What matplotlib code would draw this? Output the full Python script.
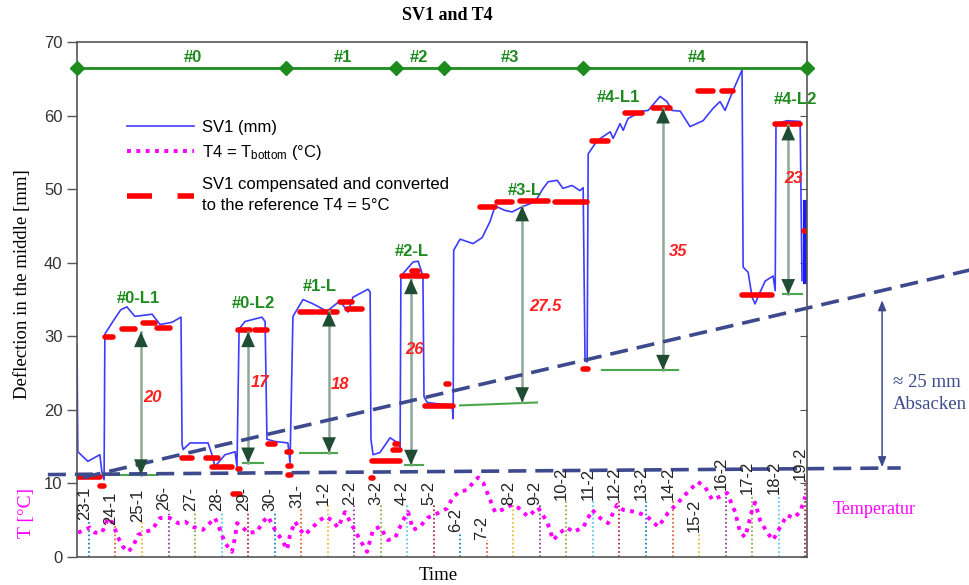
import matplotlib
matplotlib.use('Agg')
import matplotlib.pyplot as plt
from matplotlib.lines import Line2D

plt.rcParams['font.family'] = ['Liberation Sans', 'DejaVu Sans']
plt.rcParams['mathtext.fontset'] = 'custom'
plt.rcParams['mathtext.rm'] = 'Liberation Sans'
plt.rcParams['mathtext.default'] = 'regular'

# Zeit in Tagen ab 23-1, Werte in mm bzw. °C
sv1_d = [-0.45, -0.42, -0.04, 0.41, 0.49, 0.57, 0.60, 0.90, 1.20, 1.43, 1.73, 2.38, 2.68, 3.13,
         3.47, 3.51, 3.55, 3.81, 4.49, 4.64, 4.75, 5.13, 5.51, 5.58, 5.66, 5.88, 6.52, 6.64,
         6.71, 7.01, 7.50, 7.58, 7.69, 8.07, 8.45, 8.97, 9.46, 9.77, 9.95, 10.52, 10.60, 10.63,
         10.71, 10.97, 11.35, 11.65, 11.73, 11.76, 12.22, 12.41, 12.59, 12.63, 12.75, 13.20,
         13.69, 13.73, 13.75, 13.99, 14.48, 14.82, 15.12, 15.31, 15.69, 15.95, 16.33, 16.82,
         17.12, 17.31, 17.65, 17.87, 18.21, 18.51, 18.63, 18.70, 18.78, 18.82, 19.16, 19.65,
         19.76, 20.02, 20.14, 20.32, 20.85, 21.08, 21.53, 21.79, 21.98, 22.29, 22.66, 23.15,
         23.53, 23.79, 23.98, 24.28, 24.62, 24.66, 24.85, 25.00, 25.11, 25.30, 25.49, 25.79,
         25.87, 25.90, 26.32, 26.81, 26.88]
sv1_v = [28.9, 14.3, 13.0, 13.9, 11.5, 10.5, 30.3, 32.0, 33.6, 34.0, 32.7, 33.0, 31.6, 31.9,
         32.6, 15.3, 14.6, 15.5, 15.5, 13.9, 12.3, 13.9, 14.3, 12.3, 31.0, 32.0, 32.6, 32.0,
         16.0, 15.7, 15.5, 12.8, 32.7, 35.0, 34.4, 33.4, 34.8, 33.3, 35.3, 36.4, 36.0, 16.0,
         13.9, 14.2, 16.2, 15.5, 14.9, 38.2, 40.1, 40.2, 38.2, 21.8, 21.0, 20.8,
         20.7, 18.8, 41.7, 43.2, 42.6, 43.4, 45.6, 47.7, 47.1, 46.9, 47.6, 48.3,
         50.1, 51.0, 51.2, 50.1, 50.5, 49.8, 50.2, 26.9, 26.5, 54.8, 56.6, 57.8,
         56.9, 58.9, 58.0, 59.6, 60.6, 60.7, 62.6, 61.9, 60.7, 60.6, 58.5, 59.3,
         61.0, 61.9, 60.7, 63.4, 66.2, 39.4, 38.7, 35.3, 34.4, 36.0, 37.5, 38.2,
         36.2, 58.9, 59.3, 59.2, 37.6]
sv1_tail_d = [27.0, 27.0]
sv1_tail_v = [37.4, 48.3]

t4_d = [-0.41, 0.04, 0.23, 0.49, 0.72, 0.90, 1.09, 1.28, 1.47, 1.66, 1.85, 2.11, 2.38, 2.68,
        3.05, 3.36, 3.62, 3.92, 4.30, 4.75, 4.94, 5.13, 5.39, 5.51, 5.58, 5.77, 6.00, 6.33,
        6.56, 6.75, 7.01, 7.28, 7.47, 7.58, 7.77, 7.96, 8.14, 8.33, 8.71, 8.90, 9.16, 9.39,
        9.65, 9.95, 10.22, 10.48, 10.71, 10.97, 11.27, 11.54, 11.84, 12.03, 12.22, 12.48,
        12.75, 13.12, 13.50, 13.73, 13.99, 14.25, 14.48, 14.67, 14.86, 15.12, 15.31, 15.57,
        15.95, 16.18, 16.55, 16.93, 17.27, 17.50, 17.76, 18.02, 18.25, 18.63, 18.97, 19.27,
        19.57, 19.91, 20.14, 20.66, 21.04, 21.46, 21.83, 22.21, 22.59, 22.96, 23.23, 23.49,
        23.79, 24.06, 24.36, 24.55, 24.74, 25.00, 25.11, 25.30, 25.57, 25.79, 26.06, 26.32,
        26.55, 26.81, 27.00]
t4_v = [3.3, 4.0, 3.3, 3.3, 5.3, 4.6, 2.7, 1.4, 0.7, 1.4, 3.0, 3.4, 3.7, 5.3,
        5.3, 4.6, 4.8, 4.1, 3.7, 5.3, 3.7, 1.9, 0.7, 2.7, 4.6, 4.1, 3.3, 3.4,
        4.8, 5.5, 3.7, 2.3, 1.0, 3.0, 4.8, 3.7, 3.0, 3.7, 5.0, 5.5, 5.0, 4.0,
        6.1, 4.1, 2.3, 0.7, 3.7, 4.1, 2.3, 2.6, 5.0, 6.1, 3.7, 4.1,
        5.3, 5.9, 6.6, 8.2, 8.9, 9.1, 10.1, 10.8, 10.1, 7.8, 6.1, 6.4,
        7.1, 6.7, 5.5, 6.7, 4.8, 2.3, 3.3, 4.0, 3.4, 4.0, 6.4, 5.3,
        4.6, 7.1, 6.4, 6.1, 5.5, 4.1, 6.0, 7.4, 8.9, 10.2, 9.5, 7.8,
        8.2, 8.7, 6.1, 3.3, 2.7, 6.4, 7.4, 5.0, 3.3, 2.3, 4.1, 5.7,
        5.3, 6.1, 8.2]

# kompensierte Werte (Start, Ende, Wert)
comp_d0 = [-0.45, 0.43, 0.60, 1.24, 2.04, 2.56, 3.51, 4.41, 4.64, 5.62, 5.43, 5.62, 6.26,
           6.75, 7.45, 7.50, 7.52, 7.96, 8.64, 9.46, 9.73, 10.67, 11.46, 11.54, 10.63, 11.80,
           12.18, 12.67, 13.45, 14.74, 15.38, 16.25, 17.57, 18.63, 18.97, 20.21, 21.27,
           22.96, 23.87, 24.62, 25.87, 26.95]
comp_d1 = [0.41, 0.57, 0.90, 1.73, 2.49, 3.05, 3.88, 4.86, 5.39, 5.70, 5.70, 6.07, 6.71,
           7.01, 7.62, 7.62, 7.60, 8.52, 9.35, 9.92, 10.29, 11.73, 11.73, 11.65, 10.71, 12.75,
           12.41, 13.73, 13.57, 15.31, 15.95, 17.31, 18.78, 18.80, 19.57, 20.85, 21.91,
           23.53, 24.28, 25.75, 26.81, 27.03]
comp_v = [10.9, 9.7, 29.9, 31.0, 31.8, 31.1, 13.5, 13.4, 12.2, 12.0, 8.5, 30.8, 30.8,
          15.4, 14.3, 12.4, 11.2, 33.3, 33.3, 34.7, 33.7, 13.0, 14.6, 15.3, 10.8, 38.2,
          38.9, 20.5, 23.5, 47.6, 48.2, 48.4, 48.3, 25.5, 56.6, 60.3, 61.0,
          63.3, 63.4, 35.6, 58.9, 44.3]

# Laststufen: Pfeil-x, oben, unten, Basislinie von/bis, Differenz
load_names = ['#0-L1', '#0-L2', '#1-L', '#2-L', '#3-L', '#4-L1', '#4-L2']
load_x = [1.96, 6.0, 9.05, 12.14, 16.33, 21.64, 26.36]
load_top = [30.6, 30.6, 33.4, 37.8, 47.7, 61.0, 58.7]
load_bot = [11.2, 12.8, 14.2, 12.5, 21.0, 25.4, 35.7]
base_x0 = [0.72, 5.81, 7.96, 11.92, 13.99, 19.34, 26.17]
base_x1 = [2.56, 6.56, 9.35, 12.59, 16.89, 22.21, 26.88]
base_v0 = [11.2, 12.8, 14.2, 12.5, 20.6, 25.4, 35.7]
base_v1 = [11.2, 12.8, 14.2, 12.5, 21.0, 25.4, 35.7]
diff_txt = ['20', '17', '18', '26', '27.5', '35', '23']
diff_x = [2.38, 6.45, 9.46, 12.29, 17.19, 22.21, 26.55]
diff_y = [21.7, 23.7, 23.5, 28.2, 34.1, 41.5, 51.4]
name_x = [1.85, 6.18, 8.71, 12.18, 16.44, 19.95, 26.62]
name_y = [35.1, 34.4, 36.7, 41.5, 49.8, 62.5, 62.2]

# Phasen oben
phase_d = [-0.45, 7.43, 11.58, 13.39, 18.63, 27.07]
phase_names = ['#0', '#1', '#2', '#3', '#4']
phase_lx = [3.92, 9.58, 12.44, 15.87, 22.93]

dates = ['23-1', '24-1', '25-1', '26-', '27-', '28-', '29-', '30-', '31-', '1-2', '2-2', '3-2',
         '4-2', '5-2', '6-2', '7-2', '8-2', '9-2', '10-2', '11-2', '12-2', '13-2', '14-2',
         '15-2', '16-2', '17-2', '18-2', '19-2']
date_h = [5.0, 4.4, 4.8, 6.4, 6.3, 6.3, 6.3, 6.3, 6.6, 7.0, 7.0, 7.0, 7.0, 7.0, 3.4, 2.3,
          7.1, 7.1, 7.8, 7.8, 7.8, 7.8, 7.8, 3.4, 9.1, 8.5, 8.5, 10.5]
day_colors = ['#0072BD', '#D95319', '#EDB120', '#7E2F8E', '#77AC30', '#4DBEEE', '#A2142F']

blue = '#3c3cff'
navy = '#3d4a8d'
green = '#1e8b1e'
dark_green = '#1f4d33'
serif = 'Liberation Serif'

fig = plt.figure(figsize=(9.7, 5.85), dpi=100)
ax = fig.add_axes([0.0794, 0.0479, 0.7526, 0.8803])
ax.set_xlim(-0.45, 27.07)
ax.set_ylim(0, 70)

# Tageslinien und Datumsbeschriftung
for i, (lab, h) in enumerate(zip(dates, date_h)):
    ax.plot([i, i], [0, h], color=day_colors[i % 7], lw=1.2, linestyle=(0, (1, 1.5)))
    ax.text(i - 0.18, h, lab, rotation=90, ha='center', va='bottom', fontsize=12, color='#222222')

ax.plot(t4_d, t4_v, color='#ff00ff', lw=2.8, linestyle=(0, (1, 1.4)))
ax.plot(sv1_d, sv1_v, color=blue, lw=1.2)
ax.plot(sv1_tail_d, sv1_tail_v, color='#1a1aff', lw=3)

for x0, x1, v in zip(comp_d0, comp_d1, comp_v):
    ax.plot([x0, x1], [v, v], color='red', lw=4, solid_capstyle='round')

# Pfeile der Laststufen
for i in range(len(load_x)):
    x = load_x[i]
    ax.plot([base_x0[i], base_x1[i]], [base_v0[i], base_v1[i]], color='#4aa84a', lw=1.5)
    ax.plot([x, x], [load_bot[i], load_top[i]], color='#8fa898', lw=1.8)
    for yy, yt in [(load_top[i], load_top[i] - 2.5), (load_bot[i], load_bot[i] + 2.5)]:
        ax.annotate('', xy=(x, yy), xytext=(x, yt),
                    arrowprops=dict(arrowstyle='-|>,head_length=1.0,head_width=0.45',
                                    color=dark_green, lw=0, shrinkA=0, shrinkB=0,
                                    mutation_scale=11))
    ax.text(diff_x[i], diff_y[i], diff_txt[i], color='#ff2020', fontsize=12,
            fontweight='bold', fontstyle='italic', ha='center', va='center')
    ax.text(name_x[i], name_y[i], load_names[i], color=green, fontsize=12,
            fontweight='bold', ha='center', va='center')

# Phasenband
ax.plot(phase_d, [66.4] * len(phase_d), color=green, lw=2, marker='D', markersize=7,
        clip_on=False, zorder=5)
for lab, x in zip(phase_names, phase_lx):
    ax.text(x, 67.9, lab, color=green, fontsize=12, fontweight='bold', ha='center', va='center')

# Absacken-Linien
ax.plot([-1.55, 30.6], [11.2, 12.1], color=navy, lw=2.6, linestyle=(0, (5, 2.5)), clip_on=False)
ax.plot([-0.23, 33.2], [10.8, 39.0], color=navy, lw=2.6, linestyle=(0, (5, 2.5)), clip_on=False)
ax.annotate('', xy=(29.9, 34.9), xytext=(29.9, 12.2), annotation_clip=False,
            arrowprops=dict(arrowstyle='<|-|>,head_length=0.5,head_width=0.2', color=navy,
                            lw=1.1, shrinkA=0, shrinkB=0, mutation_scale=12))
ax.text(30.3, 22.2, '≈ 25 mm\nAbsacken', color=navy, fontsize=13.5, family=serif,
        ha='left', va='center', linespacing=1.35, clip_on=False)
ax.text(29.6, 6.4, 'Temperatur', color='#ff00ff', fontsize=13, family=serif,
        ha='center', va='center', clip_on=False)

# Achsen
ax.set_xticks([])
ax.set_yticks(range(0, 71, 10))
ax.tick_params(axis='y', direction='out', length=7, width=1, labelsize=12,
               labelcolor='#333333', color='#555555')
for s in ax.spines.values():
    s.set_color('#555555')
    s.set_linewidth(1.2)
sec = ax.secondary_yaxis('right')
sec.set_yticks(range(0, 71, 10))
sec.tick_params(direction='in', length=5, labelright=False, color='#555555')
sec.spines['right'].set_visible(False)

ax.text(-0.075, 0.53, 'Deflection in the middle [mm]', transform=ax.transAxes, rotation=90,
        ha='center', va='center', fontsize=13.5, family=serif)
ax.text(-0.069, 0.085, 'T [°C]', transform=ax.transAxes, rotation=90, ha='center',
        va='center', fontsize=14, family=serif, color='#ff00ff')
fig.text(0.461, 0.974, 'SV1 and T4', ha='center', va='center', fontsize=13,
         fontweight='bold', family=serif)
fig.text(0.452, 0.017, 'Time', ha='center', va='center', fontsize=13.5, family=serif)

# Legende in zwei Teilen, damit der Abstand zum dritten Eintrag stimmt
leg_opts = dict(loc='upper left', frameon=False, fontsize=12, handlelength=4,
                handletextpad=0.45, labelspacing=0.45, borderpad=0, borderaxespad=0)
handles1 = [Line2D([], [], color=blue, lw=1.2),
            Line2D([], [], color='#ff00ff', lw=2.8, linestyle=(0, (1, 1.4)))]
labels1 = ['SV1 (mm)', 'T4 = T$_{bottom}$ (°C)']
leg1 = ax.legend(handles1, labels1, bbox_to_anchor=(0.069, 0.848), **leg_opts)
ax.add_artist(leg1)
handles2 = [Line2D([], [], color='red', lw=4, linestyle=(0, (4.5, 4.6)))]
labels2 = ['SV1 compensated and converted\nto the reference T4 = 5°C']
leg2 = ax.legend(handles2, labels2, bbox_to_anchor=(0.069, 0.737), **leg_opts)
for t in leg2.get_texts():
    t.set_linespacing(1.5)

fig.savefig('out.png', dpi=100)
